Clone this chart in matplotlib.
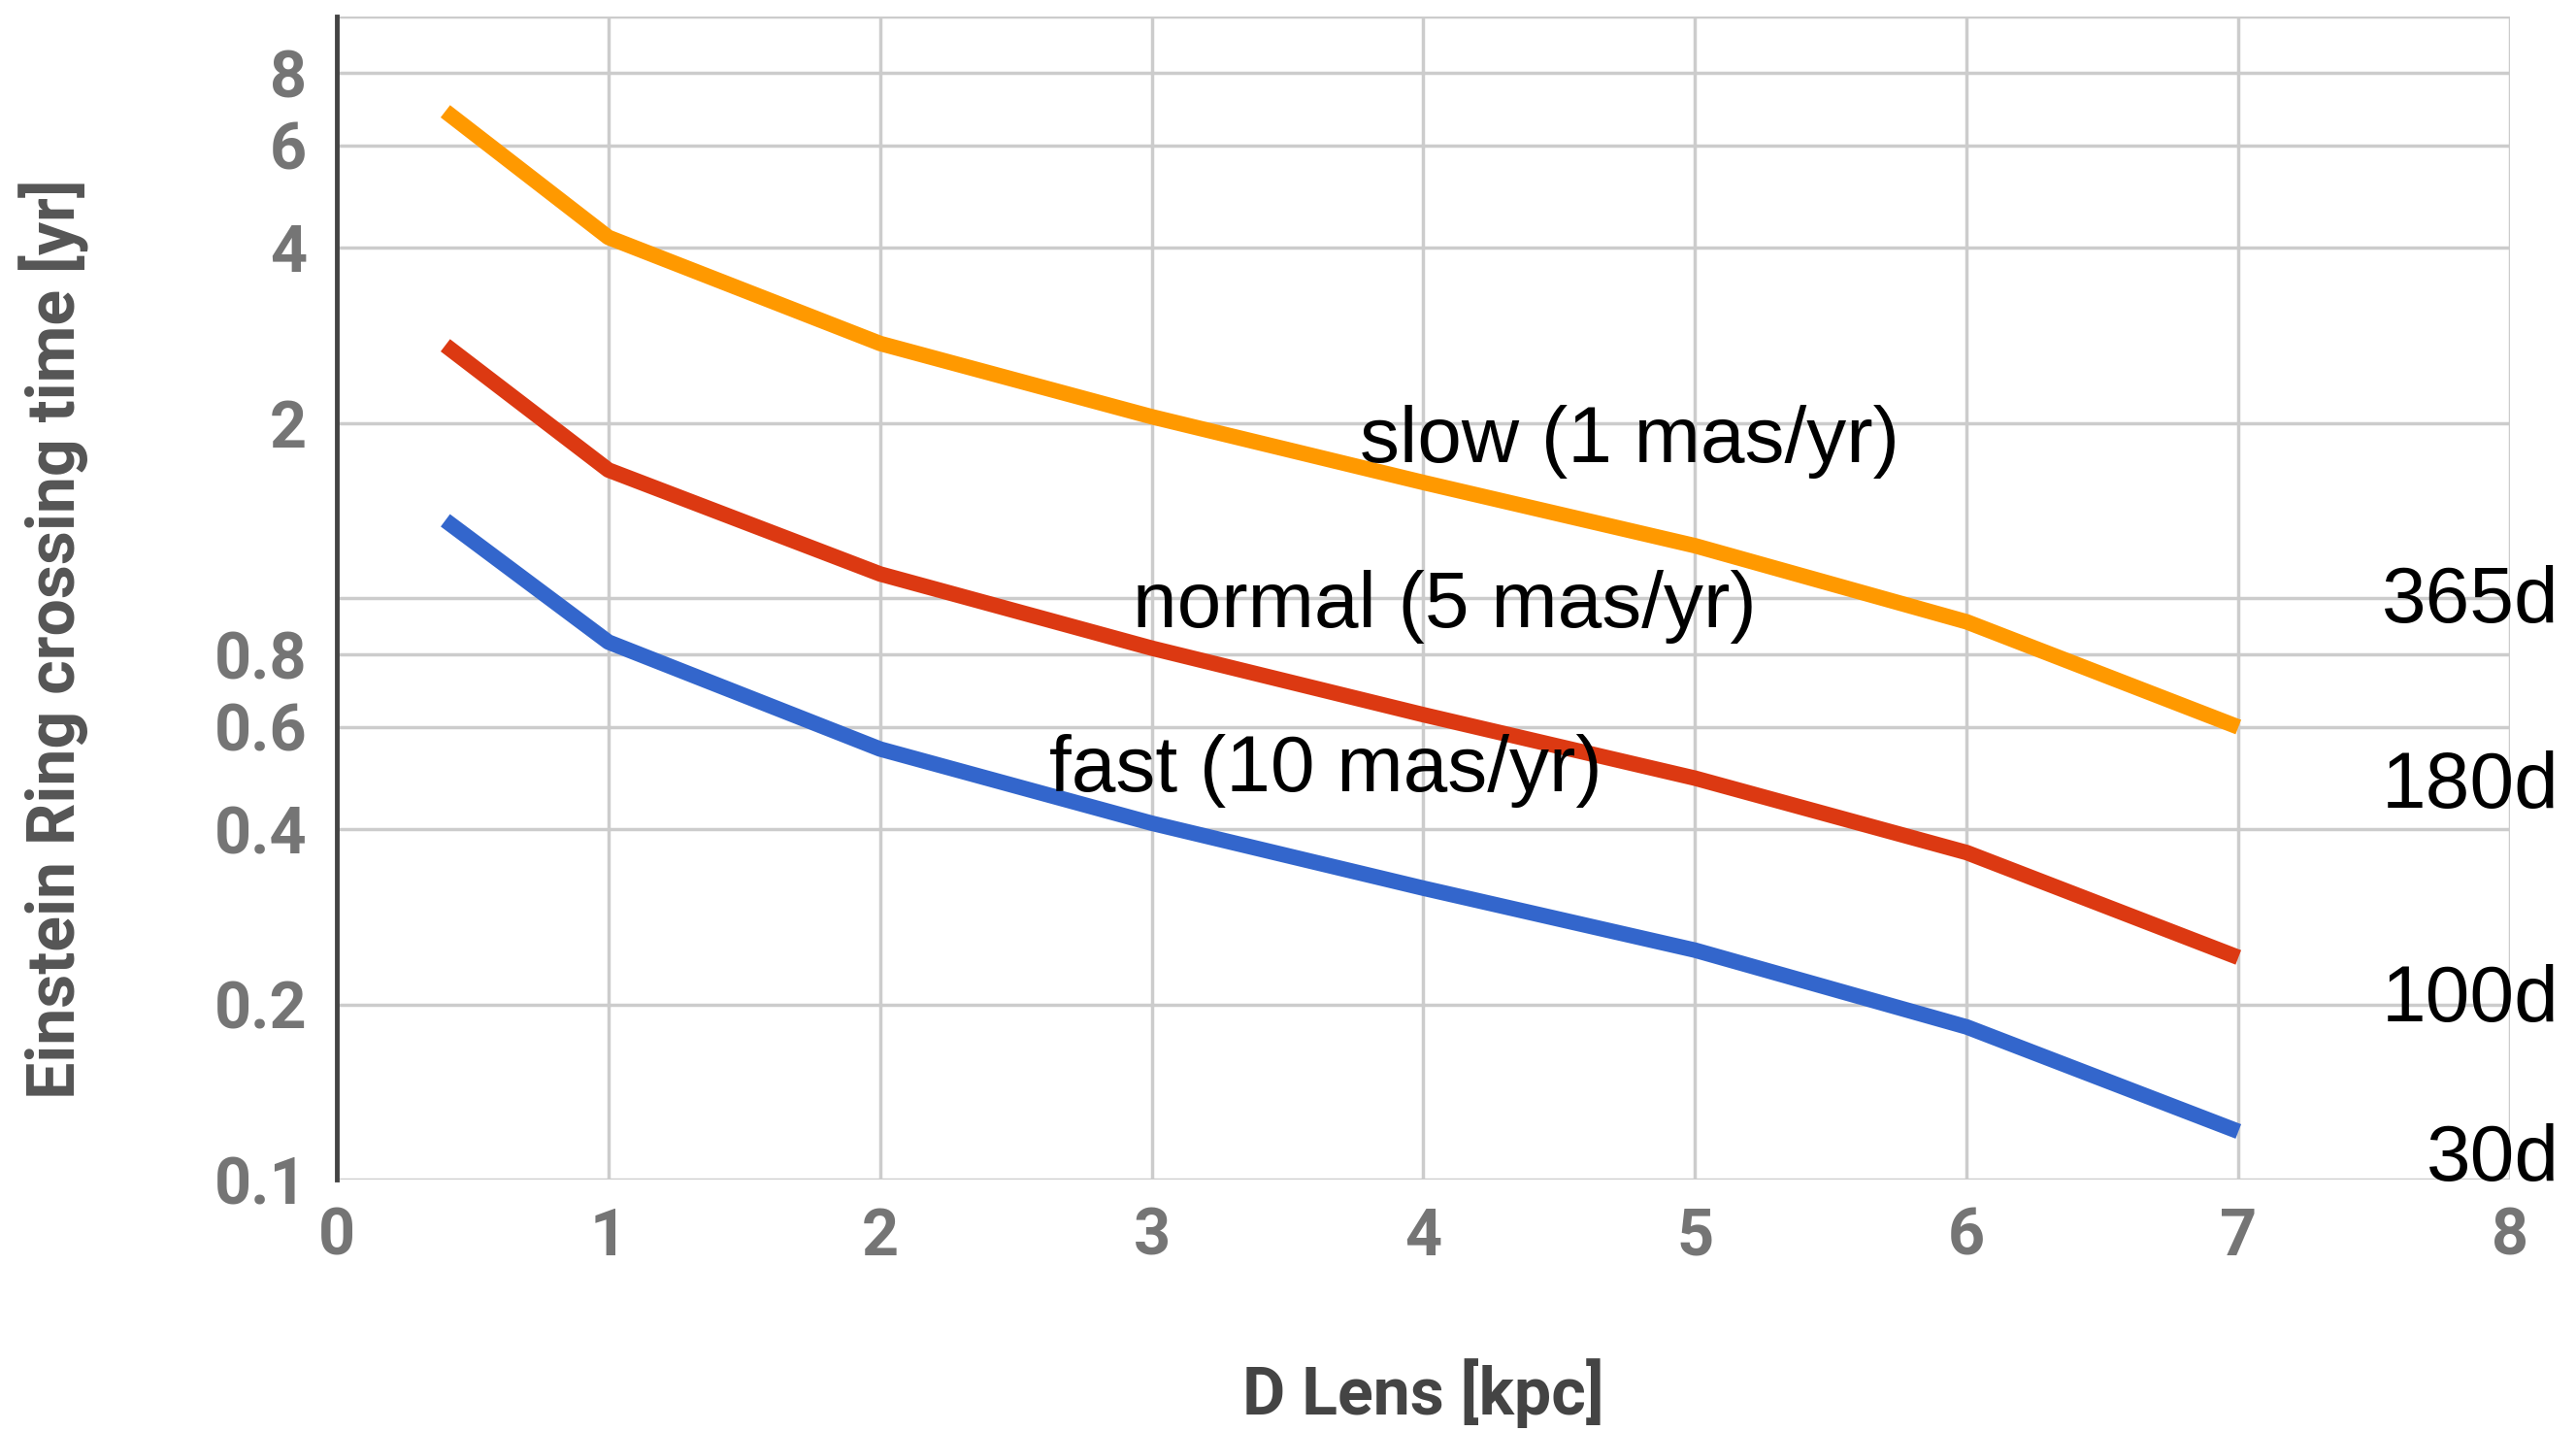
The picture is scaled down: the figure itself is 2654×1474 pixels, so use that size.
import matplotlib
matplotlib.use("Agg")
import matplotlib.pyplot as plt
from matplotlib.ticker import FixedLocator, NullLocator

# ---- data ----
d_lens = [0.4, 1, 2, 3, 4, 5, 6, 7]
slow = [6.87, 4.17, 2.74, 2.05, 1.58, 1.23, 0.91, 0.60]
normal = [2.72, 1.66, 1.10, 0.82, 0.63, 0.49, 0.365, 0.241]
fast = [1.36, 0.84, 0.55, 0.41, 0.317, 0.248, 0.183, 0.121]

series_labels = ["slow (1 mas/yr)", "normal (5 mas/yr)", "fast (10 mas/yr)"]
label_pos = [(4.76, 1.86), (4.08, 0.966), (3.64, 0.505)]

y_ticks = [0.1, 0.2, 0.4, 0.6, 0.8, 1, 2, 4, 6, 8]
y_ticklabels = ["0.1", "0.2", "0.4", "0.6", "0.8", "", "2", "4", "6", "8"]
x_ticks = [0, 1, 2, 3, 4, 5, 6, 7, 8]

day_labels = ["365d", "180d", "100d", "30d"]
day_y = [0.984, 0.473, 0.203, 0.108]

colors = ["#FF9900", "#DC3912", "#3366CC"]

fig = plt.figure(figsize=(26.54, 14.74), dpi=100)
ax = fig.add_axes([0.1307, 0.1757, 0.9744 - 0.1307, 0.9885 - 0.1757])

for ys, c in zip([slow, normal, fast], colors):
    ax.plot(d_lens, ys, color=c, lw=11.5, solid_capstyle="butt",
            solid_joinstyle="round", zorder=3)

ax.set_yscale("log")
ax.set_xlim(0, 8)
ax.set_ylim(0.1, 10)
ax.yaxis.set_major_locator(FixedLocator(y_ticks + [10]))
ax.set_yticklabels(y_ticklabels + [""])
ax.yaxis.set_minor_locator(NullLocator())
ax.set_xticks(x_ticks)
ax.set_xticklabels([str(t) for t in x_ticks])

ax.grid(True, color="#CCCCCC", lw=2.5, zorder=0)
ax.set_axisbelow(True)
for s in ["top", "right", "bottom"]:
    ax.spines[s].set_visible(False)
ax.spines["left"].set_color("#444444")
ax.spines["left"].set_linewidth(3.5)
ax.spines["left"].set_zorder(4)

ax.tick_params(axis="y", length=0, pad=22, labelsize=48, labelcolor="#757575")
ax.tick_params(axis="x", length=0, pad=20, labelsize=48, labelcolor="#757575")
for lab in ax.get_xticklabels() + ax.get_yticklabels():
    lab.set_fontfamily("Roboto")
    lab.set_fontweight("bold")

ax.set_ylabel("Einstein Ring crossing time [yr]", fontsize=49,
              fontweight="bold", fontfamily="Roboto", color="#555555")
ax.yaxis.label.set_va("center")
ax.yaxis.set_label_coords(-0.130, 0.465)
ax.set_xlabel("D Lens [kpc]", fontsize=49, fontweight="bold",
              fontfamily="Roboto", color="#444444")
ax.xaxis.label.set_va("center")
ax.xaxis.set_label_coords(0.5, -0.1836)

for txt, (x, y) in zip(series_labels, label_pos):
    ax.text(x, y, txt, fontsize=59, fontfamily="Liberation Sans",
            color="black", ha="center", va="center", zorder=5)

for txt, y in zip(day_labels, day_y):
    ax.text(8.18, y, txt, fontsize=59, fontfamily="Liberation Sans",
            color="black", ha="right", va="center", clip_on=False, zorder=5)

fig.savefig("out.png", dpi=100, facecolor="white")
